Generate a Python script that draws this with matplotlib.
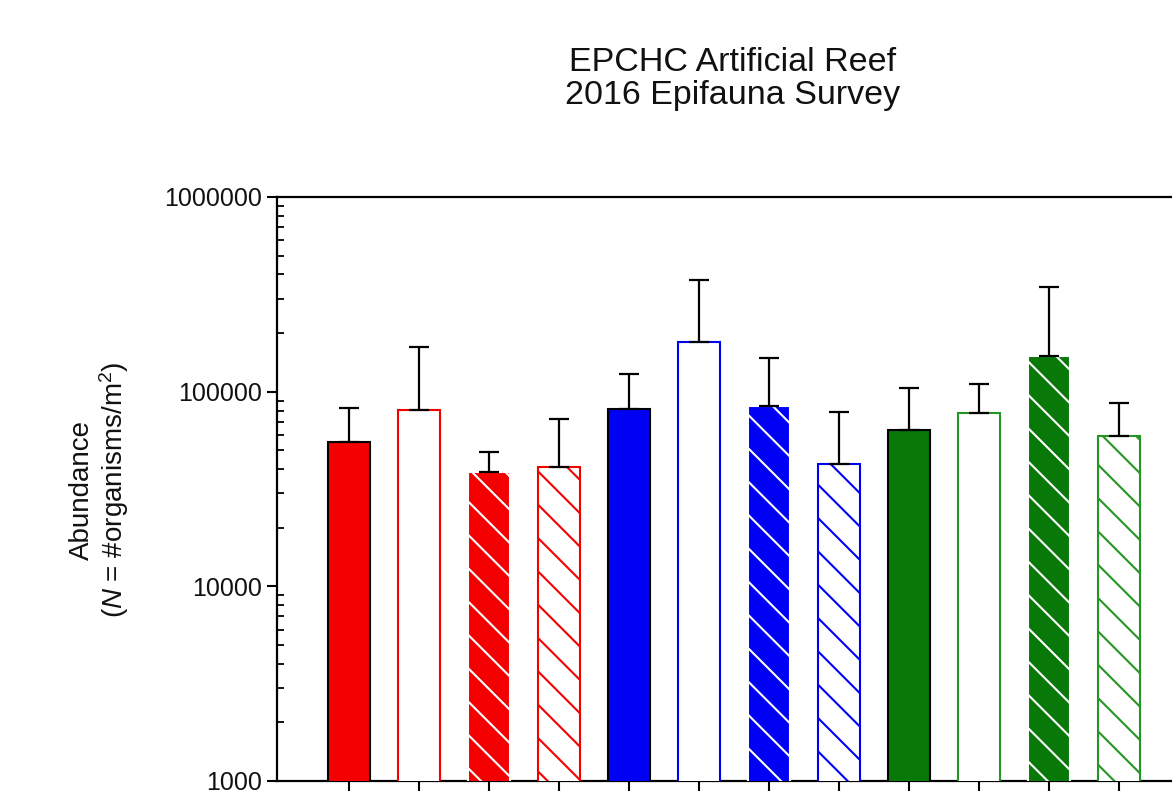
import matplotlib
matplotlib.use("Agg")
import matplotlib.pyplot as plt
import numpy as np
from matplotlib.ticker import LogLocator, FixedLocator, FuncFormatter

plt.rcParams['font.family'] = ['Liberation Sans', 'DejaVu Sans']
plt.rcParams['mathtext.fontset'] = 'custom'
plt.rcParams['mathtext.rm'] = 'Liberation Sans'
plt.rcParams['mathtext.it'] = 'Liberation Sans:italic'
plt.rcParams['hatch.linewidth'] = 1.5

# Mean abundance per bar and the top of each error bar (mean + SE)
groups = ['R1', 'R2', 'R3', 'R4', 'B1', 'B2', 'B3', 'B4', 'G1', 'G2', 'G3', 'G4']
means = [55000, 80500, 38800, 41100, 81500, 180000, 84500, 42500, 63500, 77500, 153000, 59500]
upper = [82000, 170000, 49000, 72000, 123000, 375000, 149000, 78500, 104000, 110000, 345000, 87000]

# Styles: filled, open, filled hatched, open hatched for each colour
red, blue, green = '#f50000', '#0000f5', '#087808'
green_edge = '#259625'
styles = []
for c, ce in [(red, red), (blue, blue), (green, green_edge)]:
    styles.append(dict(facecolor=c, edgecolor='black', hatch=None, linewidth=1.5))
    styles.append(dict(facecolor='white', edgecolor=ce, hatch=None, linewidth=1.5))
    styles.append(dict(facecolor=c, edgecolor='white', hatch='\\', linewidth=1.5))
    styles.append(dict(facecolor='white', edgecolor=ce, hatch='\\', linewidth=1.5))

fig = plt.figure(figsize=(11.72, 8), dpi=100)
ax = fig.add_axes([277 / 1172, 19 / 800, 0.8637, 584 / 800])

x = np.arange(len(groups))
bar_width = 0.6
for i in range(len(groups)):
    ax.bar(x[i], means[i], width=bar_width, bottom=0, zorder=3, **styles[i])

err = [np.zeros(len(means)), np.array(upper) - np.array(means)]
ax.errorbar(x, means, yerr=err, fmt='none', ecolor='black',
            elinewidth=1.6, capsize=7.5, capthick=1.6, zorder=4)

ax.set_yscale('log')
ax.set_ylim(1000, 1000000)
ax.set_xlim(-1.03, -1.03 + 0.8637 * 1172 / 70)

ax.yaxis.set_major_locator(FixedLocator([1000, 10000, 100000, 1000000]))
ax.yaxis.set_major_formatter(FuncFormatter(lambda v, p: f"{int(round(v))}"))
ax.yaxis.set_minor_locator(LogLocator(base=10, subs=np.arange(2, 10)))
ax.tick_params(axis='y', which='major', direction='out', length=7, width=1.5,
               labelsize=18, pad=3.5, labelcolor='#111111')
ax.tick_params(axis='y', which='minor', direction='in', length=5, width=1.3)
ax.set_xticks(x)
ax.set_xticklabels([''] * len(groups))
ax.tick_params(axis='x', direction='out', length=7, width=1.5)

for s in ax.spines.values():
    s.set_linewidth(1.6)

fig.text(733 / 1172, 1 - 79 / 800, 'EPCHC Artificial Reef\n2016 Epifauna Survey',
         ha='center', va='center', fontsize=24.5, linespacing=1.05, color='#111111')
fig.text(100 / 1172, 1 - 490 / 800,
         'Abundance\n($\\it{N}$ = #organisms/m$^2$)',
         rotation=90, ha='center', va='center', fontsize=20, color='#111111',
         multialignment='center', linespacing=1.12)

fig.savefig('out.png', dpi=100)
